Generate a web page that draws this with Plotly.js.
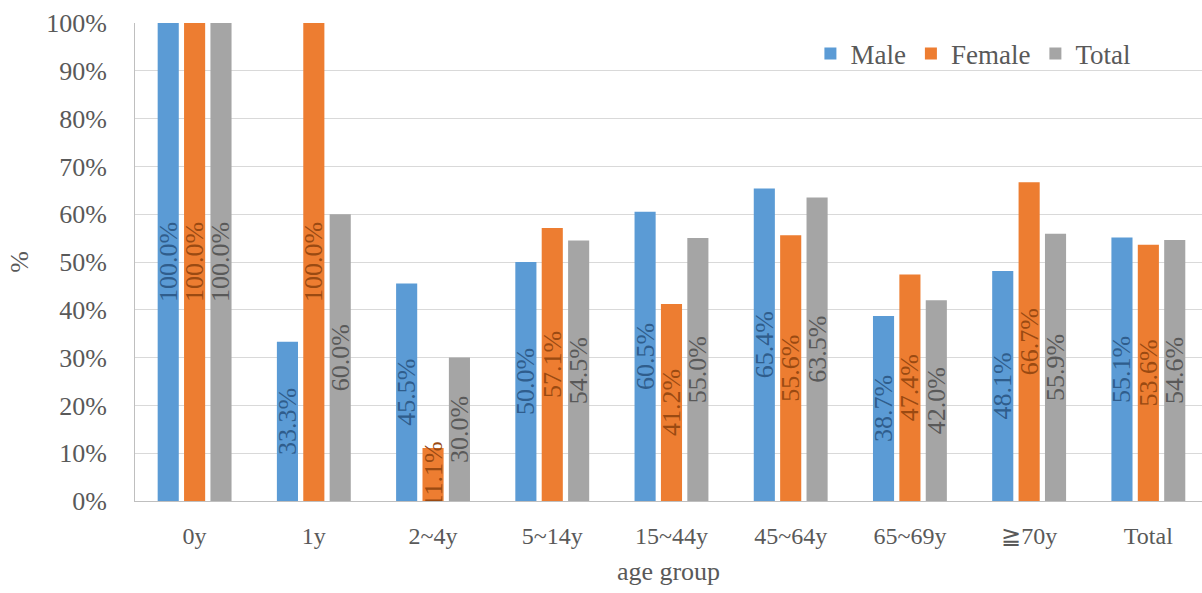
<!DOCTYPE html>
<html>
<head>
<meta charset="utf-8">
<script src="https://cdn.plot.ly/plotly-3.0.1.min.js"></script>
<style>
  html, body { margin: 0; padding: 0; background: #ffffff; }
  #chart { width: 1202px; height: 593px; }
</style>
</head>
<body>
<div id="chart"></div>
<script>
// Age groups and percentages by sex
const ageGroups = ['0y', '1y', '2~4y', '5~14y', '15~44y', '45~64y', '65~69y', '\u226770y', 'Total'];
const maleValues   = [100.0, 33.3, 45.5, 50.0, 60.5, 65.4, 38.7, 48.1, 55.1];
const femaleValues = [100.0, 100.0, 11.1, 57.1, 41.2, 55.6, 47.4, 66.7, 53.6];
const totalValues  = [100.0, 60.0, 30.0, 54.5, 55.0, 63.5, 42.0, 55.9, 54.6];
const yTicks = [0, 10, 20, 30, 40, 50, 60, 70, 80, 90, 100];

const FONT = '"Liberation Serif", "Times New Roman", serif';

function pct(v) { return v.toFixed(1) + '%'; }

function series(name, values, barColor, labelColor) {
  return {
    type: 'bar',
    name: name,
    x: ageGroups,
    y: values,
    text: values.map(pct),
    textposition: 'inside',
    insidetextanchor: 'middle',
    textangle: -90,
    textfont: { family: FONT, size: 26, color: labelColor },
    marker: { color: barColor },
    hoverinfo: 'x+y+name'
  };
}

const data = [
  series('Male', maleValues, '#5B9BD5', '#2F5D8C'),
  series('Female', femaleValues, '#ED7D31', '#9A4A12'),
  series('Total', totalValues, '#A5A5A5', '#595959')
];

const layout = {
  width: 1202,
  height: 593,
  margin: { l: 135, r: 0, t: 23, b: 92 },
  paper_bgcolor: '#ffffff',
  plot_bgcolor: '#ffffff',
  font: { family: FONT, color: '#595959' },
  barmode: 'group',
  bargap: 0.336,
  bargroupgap: 0.2,
  uniformtext: { mode: 'show', minsize: 26 },
  showlegend: true,
  legend: {
    orientation: 'h',
    x: 0.633, y: 0.935,
    xanchor: 'left', yanchor: 'middle',
    font: { family: FONT, size: 27, color: '#595959' },
    bgcolor: 'rgba(255,255,255,0)',
    itemwidth: 30,
    traceorder: 'normal'
  },
  xaxis: {
    type: 'category',
    range: [-0.5, 8.45],
    tickfont: { family: FONT, size: 24, color: '#595959' },
    ticks: 'outside',
    ticklen: 13,
    tickcolor: 'rgba(0,0,0,0)',
    showline: true,
    linecolor: '#BFBFBF',
    linewidth: 1,
    showgrid: false,
    title: { text: 'age group', font: { family: FONT, size: 26, color: '#595959' }, standoff: 14 }
  },
  yaxis: {
    range: [0, 100],
    tickvals: yTicks,
    ticktext: yTicks.map(v => v + '%'),
    tickfont: { family: FONT, size: 26, color: '#595959' },
    ticks: 'outside',
    ticklen: 22,
    tickcolor: 'rgba(0,0,0,0)',
    showline: true,
    linecolor: '#BFBFBF',
    linewidth: 1,
    showgrid: true,
    gridcolor: '#D9D9D9',
    gridwidth: 1,
    zeroline: false,
    title: { text: '%', font: { family: FONT, size: 26, color: '#595959' }, standoff: 10 }
  }
};

Plotly.newPlot('chart', data, layout, { displayModeBar: false, staticPlot: true });
</script>
</body>
</html>
